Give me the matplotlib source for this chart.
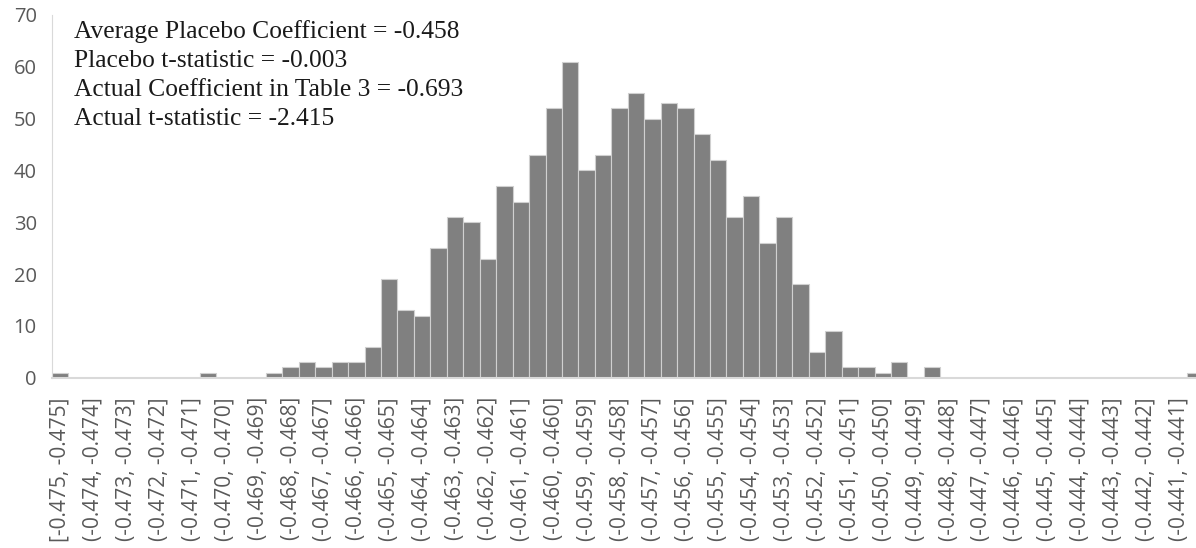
import numpy as np
import matplotlib.pyplot as plt

# Histogram of placebo coefficients: 70 bins of width 0.0005
counts = [1, 0, 0, 0, 0, 0, 0, 0, 0, 1,
          0, 0, 0, 1, 2, 3, 2, 3, 3, 6,
          19, 13, 12, 25, 31, 30, 23, 37, 34, 43,
          52, 61, 40, 43, 52, 55, 50, 53, 52, 47,
          42, 31, 35, 26, 31, 18, 5, 9, 2, 2,
          1, 3, 0, 2, 0, 0, 0, 0, 0, 0,
          0, 0, 0, 0, 0, 0, 0, 0, 0, 1]
# Excel only shows every other category label
bin_labels = ['[-0.475, -0.475]'] + ['(-0.%03d, -0.%03d]' % (v, v) for v in range(474, 440, -1)]
notes = ['Average Placebo Coefficient = -0.458',
         'Placebo t-statistic = -0.003',
         'Actual Coefficient in Table 3 = -0.693',
         'Actual t-statistic = -2.415']

fig = plt.figure(figsize=(11.96, 5.48), dpi=100)
ax = fig.add_axes([52 / 1196, 1 - 377.7 / 548, 1151.5 / 1196, (377.7 - 15) / 548])

x = np.arange(len(counts))
ax.bar(x, counts, width=1.0, align='edge', color='#808080', edgecolor='#d0d0d0', linewidth=0.8)

ax.set_xlim(0, len(counts))
ax.set_ylim(0, 70)
ax.set_yticks(range(0, 71, 10))
ax.set_xticks(np.arange(len(bin_labels)) * 2 + 0.5)
ax.set_xticklabels(bin_labels, rotation=90, fontsize=15, family='Open Sans', color='#595959')
for lab in ax.get_yticklabels():
    lab.set_fontsize(14.5)
    lab.set_family('Open Sans')
    lab.set_color('#595959')
ax.tick_params(axis='both', length=0)
ax.tick_params(axis='x', pad=14)
ax.tick_params(axis='y', pad=11)

for side in ['top', 'right']:
    ax.spines[side].set_visible(False)
ax.spines['left'].set_color('#d9d9d9')
ax.spines['bottom'].set_color('#d9d9d9')
ax.spines['bottom'].set_linewidth(1.5)

ax.text(22 / 1151.5, 0.987, '\n'.join(notes), transform=ax.transAxes, va='top', ha='left',
        family='Liberation Serif', fontsize=18.4, linespacing=1.41, color='#1a1a1a')

fig.savefig('out.png', dpi=100)
